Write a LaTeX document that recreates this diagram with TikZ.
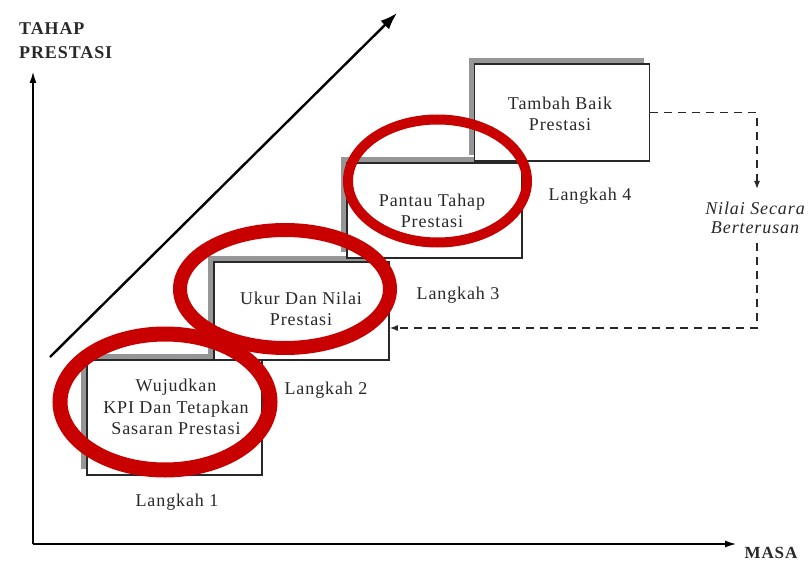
\documentclass[tikz,border=0pt]{standalone}
\usepackage{fontspec}
\setmainfont{Liberation Serif}[LetterSpace=5]
\usetikzlibrary{shapes.geometric,shadows,arrows.meta}
\definecolor{ringred}{RGB}{200,0,0}
\definecolor{ink}{RGB}{40,40,40}
\definecolor{shade}{RGB}{150,150,150}
\begin{document}
\begin{tikzpicture}[x=1pt,y=-1pt,
  stepbox/.style={draw=ink, line width=1.6pt, fill=white, minimum width=175pt,
    general shadow={fill=shade, shadow xshift=-6pt, shadow yshift=6pt}},
  boxtext/.style={align=center, font=\fontsize{18}{21.5}\selectfont, text=ink},
  steplabel/.style={font=\fontsize{18}{21}\selectfont, text=ink},
  ring/.style={ellipse, draw=ringred, inner sep=0pt},
  axis/.style={line width=1.3pt, -{Latex[length=11pt,width=7pt]}},
  flow/.style={dash pattern=on 8pt off 6pt, line width=1.3pt, draw=ink}
]
\useasboundingbox (0,0) rectangle (810,561);

% axes
\coordinate (org) at (33,544);
\coordinate (ytop) at (33,72);
\coordinate (xend) at (736,544);
\draw[axis] (org) -- (ytop);
\draw[axis] (org) -- (xend);
\node[anchor=north west, align=left, font=\fontsize{18}{24}\bfseries, inner sep=0pt, text=ink] (ylab) at (19,22) {TAHAP\\PRESTASI};
\node[font=\fontsize{17}{17}\bfseries, text=ink] (xlab) at (771,553) {MASA};

% rising trend arrow
\coordinate (trS) at (50,357);
\coordinate (trE) at (397,13);
\draw[line width=2.4pt, -{Latex[length=17pt,width=12pt]}] (trS) -- (trE);

% the four steps
\node[stepbox, minimum height=115pt] (b1) at (174.5,417.5) {};
\node[stepbox, minimum height=98pt] (b2) at (301.5,311) {};
\node[stepbox, minimum height=95pt] (b3) at (434.5,210.5) {};
\node[stepbox, minimum height=97pt] (b4) at (562,112.5) {};

\node[boxtext] (t1) at (176,407) {Wujudkan\\KPI Dan Tetapkan\\Sasaran Prestasi};
\node[boxtext] (t2) at (301,309) {Ukur Dan Nilai\\Prestasi};
\node[boxtext] (t3) at (432,211) {Pantau Tahap\\Prestasi};
\node[boxtext] (t4) at (560,114) {Tambah Baik\\Prestasi};

\node[steplabel] (l1) at (177,502) {Langkah 1};
\node[steplabel] (l2) at (326,390) {Langkah 2};
\node[steplabel] (l3) at (458,295) {Langkah 3};
\node[steplabel] (l4) at (590,196) {Langkah 4};

% continuous review loop
\node[boxtext, font=\fontsize{18}{19}\selectfont\itshape] (nl) at (755,218) {Nilai Secara\\Berterusan};
\coordinate (tipA) at (757,189);
\coordinate (tailB) at (757,243);
\coordinate (loopY) at (0,328);
\draw[flow, -{Latex[length=8pt,width=6pt]}] (b4.east) -| (tipA);
\draw[flow, -{Latex[length=8pt,width=6pt]}] (tailB) |- (b2.east |- loopY);

% highlight rings
\node[ring, line width=15pt, minimum width=210pt, minimum height=136pt] (e1) at (165,402) {};
\node[ring, line width=14pt, minimum width=210pt, minimum height=118pt] (e2) at (285,289) {};
\node[ring, line width=10pt, minimum width=179pt, minimum height=123pt] (e3) at (437.5,181) {};
\end{tikzpicture}
\end{document}
